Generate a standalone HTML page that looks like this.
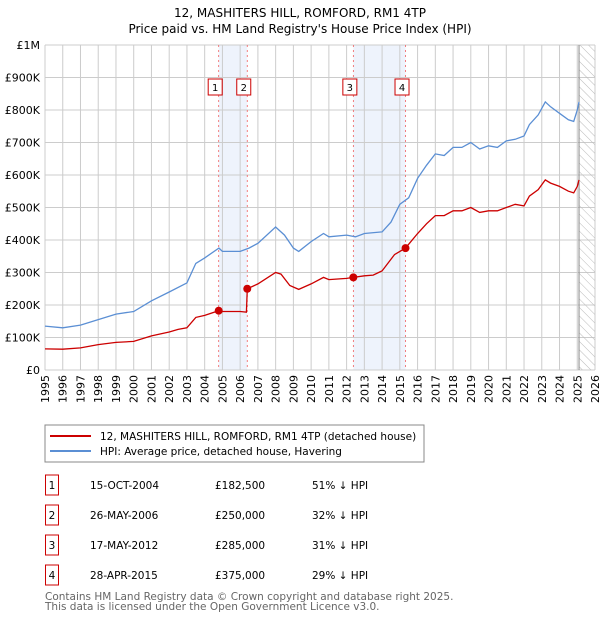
<!DOCTYPE html>
<html><head><meta charset="utf-8"><style>
body{margin:0;background:#fff;font-family:"DejaVu Sans","Liberation Sans",sans-serif;}
svg text{font-family:"DejaVu Sans","Liberation Sans",sans-serif;}
</style></head><body>
<svg id="c" width="600" height="620" xmlns="http://www.w3.org/2000/svg">
<defs><pattern id="hatch" width="6" height="6" patternUnits="userSpaceOnUse" patternTransform="rotate(-45)"><line x1="0" y1="0" x2="0" y2="6" stroke="#bbb" stroke-width="1"/></pattern></defs>
<text x="300" y="17" text-anchor="middle" font-size="12">12, MASHITERS HILL, ROMFORD, RM1 4TP</text>
<text x="300" y="33" text-anchor="middle" font-size="12">Price paid vs. HM Land Registry's House Price Index (HPI)</text>
<g id="plot"></g>
<rect x="45" y="425" width="379" height="37" fill="#fff" stroke="#888"/>
<line x1="50" y1="436" x2="91" y2="436" stroke="#cc0000" stroke-width="2"/>
<text x="100" y="440" font-size="10.5">12, MASHITERS HILL, ROMFORD, RM1 4TP (detached house)</text>
<line x1="50" y1="451" x2="91" y2="451" stroke="#5b8fd4" stroke-width="2"/>
<text x="100" y="455" font-size="10.5">HPI: Average price, detached house, Havering</text>
<g id="tbl" font-size="10.5"></g>
<text x="45" y="600" font-size="10.5" fill="#666">Contains HM Land Registry data © Crown copyright and database right 2025.</text>
<text x="45" y="610" font-size="10.5" fill="#666">This data is licensed under the Open Government Licence v3.0.</text>
</svg>
<script>
const hpiYears=[1995,1996,1997,1998,1999,2000,2001,2002,2003,2003.5,2004,2004.8,2005,2006,2006.5,2007,2008,2008.5,2009,2009.3,2010,2010.7,2011,2012,2012.5,2013,2014,2014.5,2015,2015.5,2016,2016.5,2017,2017.5,2018,2018.5,2019,2019.5,2020,2020.5,2021,2021.5,2022,2022.3,2022.8,2023.2,2023.5,2024,2024.5,2024.8,2025,2025.1];
const hpiValues=[135,130,138,155,172,180,213,240,268,328,345,375,365,365,375,390,440,415,375,365,395,420,410,415,410,420,425,455,510,530,590,630,665,660,685,685,700,680,690,685,705,710,720,755,785,825,810,790,770,765,800,825];
const ppYears=[1995,1996,1997,1998,1999,2000,2001,2002,2002.5,2003,2003.5,2004,2004.79,2005,2006,2006.35,2006.4,2007,2008,2008.3,2008.8,2009.3,2010,2010.7,2011,2012,2012.38,2013,2013.5,2014,2014.7,2015.32,2016,2016.5,2017,2017.5,2018,2018.5,2019,2019.5,2020,2020.5,2021,2021.5,2022,2022.3,2022.8,2023.2,2023.5,2024,2024.5,2024.8,2025,2025.1];
const ppValues=[65,64,68,78,85,88,105,117,125,130,162,168,182.5,180,180,178,250,265,300,295,260,248,265,285,278,282,285,290,292,305,355,375,420,450,475,475,490,490,500,485,490,490,500,510,505,535,555,585,575,565,550,545,565,585];
const saleYears=[2004.79,2006.4,2012.38,2015.32];
const saleValues=[182.5,250,285,375];
const saleLabels=["1","2","3","4"];
const saleDates=["15-OCT-2004","26-MAY-2006","17-MAY-2012","28-APR-2015"];
const salePrices=["£182,500","£250,000","£285,000","£375,000"];
const saleDiffs=["51% ↓ HPI","32% ↓ HPI","31% ↓ HPI","29% ↓ HPI"];
const yTicks=[0,100,200,300,400,500,600,700,800,900,1000];
const yTickLabels=["£0","£100K","£200K","£300K","£400K","£500K","£600K","£700K","£800K","£900K","£1M"];
const xTicks=[1995,1996,1997,1998,1999,2000,2001,2002,2003,2004,2005,2006,2007,2008,2009,2010,2011,2012,2013,2014,2015,2016,2017,2018,2019,2020,2021,2022,2023,2024,2025,2026];

const L=45,R=595,T=45,B=370;
const xs=y=>L+(y-1995)/(2026-1995)*(R-L);
const ys=v=>B-v/1000*(B-T);
const NS="http://www.w3.org/2000/svg";
const g=document.getElementById('plot');
function mk(t,a,p){const e=document.createElementNS(NS,t);for(const k in a)e.setAttribute(k,a[k]);(p||g).appendChild(e);return e;}
let e;
e=mk('rect',{x:xs(saleYears[0]),y:T,width:xs(saleYears[1])-xs(saleYears[0]),height:B-T,fill:'#eef3fc'});


e=mk('rect',{x:xs(saleYears[2]),y:T,width:xs(saleYears[3])-xs(saleYears[2]),height:B-T,fill:'#eef3fc'});


xTicks.forEach((t,i)=>{const x=xs(t);
 e=mk('line',{x1:x,y1:T,x2:x,y2:B,stroke:'#ccc','stroke-width':1});
 
 
 e=mk('text',{x:0,y:0,'font-size':11,'text-anchor':'end',transform:`translate(${x+4},${B+5}) rotate(-90)`});
 e.textContent=t;
 
 
});
yTicks.forEach((t,i)=>{const y=ys(t);
 e=mk('line',{x1:L,y1:y,x2:R,y2:y,stroke:'#ccc','stroke-width':1});
 
 
 e=mk('text',{x:L-5,y:y+4,'font-size':11,'text-anchor':'end'});
 e.textContent=yTickLabels[i];
 
 
});
e=mk('rect',{x:xs(2025.1),y:T,width:R-xs(2025.1),height:B-T,fill:'url(#hatch)',stroke:'none'});


e=mk('line',{x1:xs(2025.1),y1:T,x2:xs(2025.1),y2:B,stroke:'#888'});


saleYears.forEach((s,i)=>{const x=xs(s);
 e=mk('line',{x1:x,y1:T,x2:x,y2:B,stroke:'#f06060','stroke-width':0.8,'stroke-dasharray':'2,3'});
 
 
 const cx=x-3.5;
 e=mk('rect',{x:cx-7,y:79,width:14,height:16,fill:'#fff',stroke:'#c00'});
 
 
 e=mk('text',{x:cx,y:91,'font-size':10,'text-anchor':'middle'});
 e.textContent=saleLabels[i];
 
 
});
function path(xa,va,col,name){let d=xa.map((y,i)=>(i?'L':'M')+xs(y).toFixed(1)+','+ys(va[i]).toFixed(1)).join('');
 e=mk('path',{d:d,fill:'none',stroke:col,'stroke-width':1.3});
 
 }
path(hpiYears,hpiValues,'#5b8fd4','hpi-line');
path(ppYears,ppValues,'#cc0000','price-paid-line');
saleYears.forEach((s,i)=>{
 e=mk('circle',{cx:xs(s),cy:ys(saleValues[i]),r:4,fill:'#cc0000'});
 
 
});
const tb=document.getElementById('tbl');
saleLabels.forEach((l,i)=>{const y=483+i*30;
 e=mk('rect',{x:45.5,y:y-8,width:13,height:20,fill:'#fff',stroke:'#c00'},tb);
 
 
 const cols=[[52,l,'middle'],[90,saleDates[i],'start'],[215,salePrices[i],'start'],[312,saleDiffs[i],'start']];
 cols.forEach(c=>{e=mk('text',{x:c[0],y:y+6,'text-anchor':c[2]},tb);e.textContent=c[1];
  
  });
});
</script>
</body></html>
